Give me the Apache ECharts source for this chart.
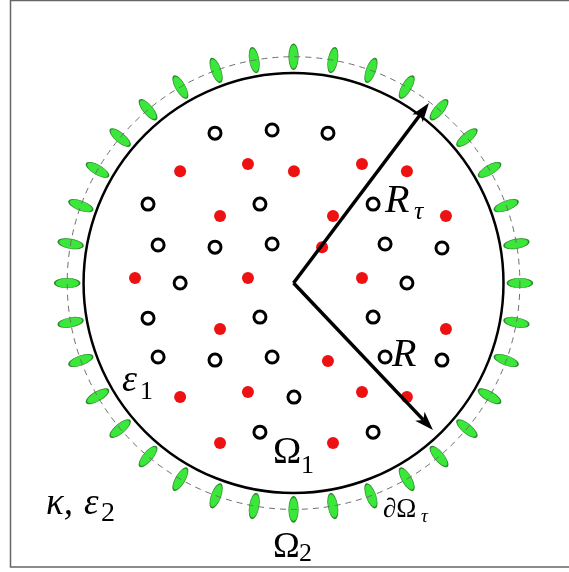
<!DOCTYPE html>
<html>
<head>
<meta charset="utf-8">
<script src="https://cdn.jsdelivr.net/npm/echarts@6/dist/echarts.min.js"></script>
<style>
  html, body { margin: 0; padding: 0; background: #fff; }
  #chart { width: 569px; height: 572px; }
</style>
</head>
<body>
<div id="chart"></div>
<script>
// Lengths are in units of the inner boundary radius R (centre at the origin).
const innerRadius = 1.0;      // R, boundary of Omega_1
const outerRadius = 1.078;    // R_tau, the dashed boundary dOmega_tau

// Open (hollow) scatterers inside Omega_1
const openSites = [
  [-0.374, 0.714], [-0.102, 0.729], [0.164, 0.714],
  [-0.693, 0.376], [-0.160, 0.376], [0.379, 0.376],
  [-0.645, 0.181], [-0.374, 0.171], [-0.102, 0.186], [0.436, 0.186], [0.707, 0.167],
  [-0.540, 0.000], [0.540, 0.000],
  [-0.693, -0.167], [-0.160, -0.162], [0.379, -0.162],
  [-0.645, -0.352], [-0.374, -0.367], [-0.102, -0.352], [0.436, -0.352], [0.707, -0.367],
  [0.002, -0.543],
  [-0.160, -0.710], [0.379, -0.710]
];

// Filled (red) scatterers inside Omega_1
const filledSites = [
  [-0.540, 0.533], [-0.217, 0.567], [0.002, 0.533], [0.326, 0.567], [0.540, 0.533],
  [-0.350, 0.319], [0.188, 0.319], [0.726, 0.319],
  [0.136, 0.171],
  [-0.755, 0.024], [-0.217, 0.024], [0.326, 0.024],
  [-0.350, -0.219], [0.726, -0.219],
  [0.164, -0.371],
  [-0.540, -0.543], [-0.217, -0.519], [0.326, -0.519], [0.540, -0.543],
  [-0.350, -0.762], [0.188, -0.762]
];

// Angular positions (degrees) of the elongated elements on the dashed circle
const emitterAngles = [0, 10, 20, 30, 40, 50, 60, 70, 80, 90, 100, 110,
  120, 130, 140, 150, 160, 170, 180, 190, 200, 210, 220, 230,
  240, 250, 260, 270, 280, 290, 300, 310, 320, 330, 340, 350];

// Tips of the two radius arrows: R_tau (upper) and R (lower)
const arrowTips = [[0.645, 0.857], [0.664, -0.700]];

// Polar placement of the elements on the dashed circle
const emitterData = emitterAngles.map(function (a) {
  const t = a * Math.PI / 180;
  return [outerRadius * Math.cos(t), outerRadius * Math.sin(t), a];
});

const chart = echarts.init(document.getElementById('chart'), null, { renderer: 'canvas' });

function circleItem(style) {
  return function (params, api) {
    const c = api.coord([api.value(0), api.value(1)]);
    const e = api.coord([api.value(0) + api.value(2), api.value(1)]);
    return {
      type: 'circle',
      shape: { cx: c[0], cy: c[1], r: e[0] - c[0] },
      style: Object.assign({ fill: 'none' }, style)
    };
  };
}

function arrowItem(params, api) {
  const s = api.coord([0, 0]);
  const t = api.coord([api.value(0), api.value(1)]);
  const dx = t[0] - s[0], dy = t[1] - s[1];
  const len = Math.sqrt(dx * dx + dy * dy);
  const ux = dx / len, uy = dy / len;
  const nx = -uy, ny = ux;
  const headLen = 19, halfW = 6.5, notch = 5;
  const bx = t[0] - ux * headLen, by = t[1] - uy * headLen;
  const mx = t[0] - ux * (headLen - notch), my = t[1] - uy * (headLen - notch);
  return {
    type: 'group',
    children: [
      {
        type: 'line',
        shape: { x1: s[0], y1: s[1], x2: mx, y2: my },
        style: { stroke: '#000', lineWidth: 3.5, lineCap: 'butt' }
      },
      {
        type: 'polygon',
        shape: { points: [[t[0], t[1]], [bx + nx * halfW, by + ny * halfW], [mx, my], [bx - nx * halfW, by - ny * halfW]] },
        style: { fill: '#000' }
      }
    ]
  };
}

// Text annotations (pixel placement; y is the bottom of the text box)
function label(text, x, bottom, size, italic) {
  return {
    type: 'text',
    x: x,
    y: bottom,
    silent: true,
    style: {
      text: text,
      fontFamily: 'Liberation Serif',
      fontSize: size,
      fontStyle: italic ? 'italic' : 'normal',
      fill: '#000',
      align: 'left',
      verticalAlign: 'bottom'
    }
  };
}

const option = {
  animation: false,
  backgroundColor: '#fff',
  grid: { left: 0, right: 0, top: 0, bottom: 0 },
  xAxis: { type: 'value', min: -1.398, max: 1.312, show: false },
  yAxis: { type: 'value', min: -1.376, max: 1.348, show: false },
  graphic: [
    {
      type: 'rect',
      silent: true,
      shape: { x: 10.5, y: 0.5, width: 620, height: 566.5 },
      style: { fill: 'none', stroke: '#666', lineWidth: 1.5 }
    },
    label('R', 385, 221, 40, true),
    label('τ', 414, 225, 26, true),
    label('R', 392, 375, 40, true),
    label('Ω', 273, 472, 38, false),
    label('1', 301, 479, 26, false),
    label('ε', 122, 400, 38, true),
    label('1', 140, 405, 26, false),
    label('κ,', 46, 523, 37, true),
    label('ε', 84, 523, 37, true),
    label('2', 101, 528, 28, false),
    label('∂Ω', 383, 523, 27, false),
    label('τ', 421, 526, 19, true),
    label('Ω', 273, 566, 36, false),
    label('2', 299, 567, 26, false)
  ],
  series: [
    {
      name: 'boundary',
      type: 'custom',
      silent: true,
      z: 2,
      data: [[0, 0, innerRadius]],
      renderItem: circleItem({ stroke: '#000', lineWidth: 2.5 })
    },
    {
      name: 'emitters',
      type: 'scatter',
      silent: true,
      z: 3,
      symbol: 'path://M10,0A10,10 0 1 1 10,20A10,10 0 1 1 10,0Z',
      symbolSize: [9.5, 25],
      symbolRotate: function (value) { return value[2] - 90; },
      itemStyle: { color: '#3ae83a', borderColor: '#2b8a2b', borderWidth: 1, opacity: 1 },
      data: emitterData
    },
    {
      name: 'dashed boundary',
      type: 'custom',
      silent: true,
      z: 4,
      data: [[0, 0, outerRadius]],
      renderItem: circleItem({ stroke: '#6f6f6f', lineWidth: 1, lineDash: [6, 5] })
    },
    {
      name: 'open scatterers',
      type: 'scatter',
      silent: true,
      z: 5,
      symbol: 'circle',
      symbolSize: 12,
      itemStyle: { color: '#fff', borderColor: '#000', borderWidth: 3, opacity: 1 },
      data: openSites
    },
    {
      name: 'filled scatterers',
      type: 'scatter',
      silent: true,
      z: 5,
      symbol: 'circle',
      symbolSize: 12,
      itemStyle: { color: '#ee1111', opacity: 1 },
      data: filledSites
    },
    {
      name: 'radii',
      type: 'custom',
      silent: true,
      z: 6,
      data: arrowTips,
      renderItem: arrowItem
    }
  ]
};

chart.setOption(option);
</script>
</body>
</html>
